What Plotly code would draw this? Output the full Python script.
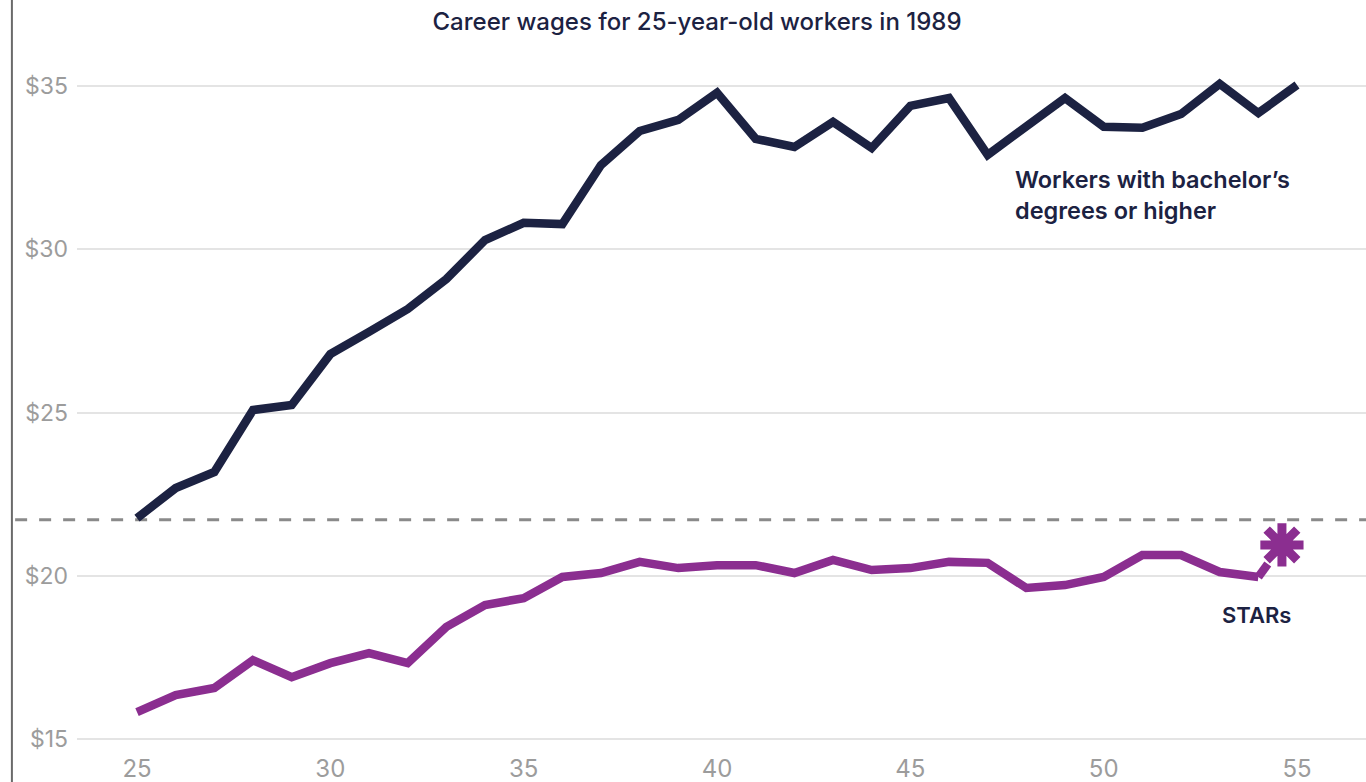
import plotly.graph_objects as go

# Age of the 1989 cohort of 25-year-olds
ages = list(range(25, 56))

# Hourly wages (USD) for workers with bachelor's degrees or higher
bachelor_wages = [21.77, 22.69, 23.18, 25.08, 25.23, 26.79, 27.47, 28.17, 29.09, 30.28,
                  30.81, 30.77, 32.58, 33.62, 33.96, 34.79, 33.38, 33.13, 33.90, 33.10,
                  34.39, 34.63, 32.89, 33.78, 34.63, 33.75, 33.72, 34.14, 35.06, 34.17,
                  35.03]

# Hourly wages (USD) for STARs (skilled through alternative routes), ages 25-54
star_ages = list(range(25, 55))
star_wages = [15.83, 16.35, 16.57, 17.42, 16.90, 17.33, 17.64, 17.33, 18.44, 19.11,
              19.32, 19.97, 20.09, 20.43, 20.24, 20.33, 20.33, 20.09, 20.49, 20.18,
              20.24, 20.43, 20.40, 19.63, 19.72, 19.97, 20.64, 20.64, 20.12, 19.97]

# Asterisk marking the STARs endpoint
asterisk_age = [54.61]
asterisk_wage = [20.95]

# Starting wage of bachelor's-degree workers, drawn as a dashed reference line
reference_wage = 21.72

x_ticks = [25, 30, 35, 40, 45, 50, 55]
y_ticks = [15, 20, 25, 30, 35]
y_tick_text = ["$" + str(v) for v in y_ticks]

NAVY = "#1c2242"
PURPLE = "#8b2e90"
GRAY_TEXT = "#9c9c9c"
FONT = "Inter"

fig = go.Figure()

# Dashed reference line across the full width
fig.add_shape(type="line", xref="paper", yref="y", x0=-0.048, x1=1.0,
              y0=reference_wage, y1=reference_wage,
              line=dict(color="#8a8a8a", width=3, dash="12px,12px"), layer="below")

# Left rule
fig.add_shape(type="line", xref="paper", yref="paper", x0=-0.0505, x1=-0.0505,
              y0=-0.05, y1=1.08, line=dict(color="#6a6a6a", width=2))

fig.add_trace(go.Scatter(x=ages, y=bachelor_wages, mode="lines",
                         line=dict(color=NAVY, width=8.5), hoverinfo="skip"))

fig.add_trace(go.Scatter(x=star_ages, y=star_wages, mode="lines",
                         line=dict(color=PURPLE, width=8.5), hoverinfo="skip"))

# Short connector from the last STARs point toward the asterisk, stopping short of it
frac = 0.40
cx = star_ages[-1] + frac * (asterisk_age[0] - star_ages[-1])
cy = star_wages[-1] + frac * (asterisk_wage[0] - star_wages[-1])
fig.add_trace(go.Scatter(x=[star_ages[-1], cx], y=[star_wages[-1], cy], mode="lines",
                         line=dict(color=PURPLE, width=8.5), hoverinfo="skip"))

fig.add_trace(go.Scatter(x=asterisk_age, y=asterisk_wage, mode="markers",
                         marker=dict(symbol="asterisk-open", size=36, color=PURPLE,
                                     line=dict(color=PURPLE, width=9)),
                         hoverinfo="skip"))

fig.add_annotation(x=47.65, y=31.66, xref="x", yref="y", xanchor="left", yanchor="middle",
                   text="Workers with bachelor’s<br>degrees or higher", showarrow=False,
                   align="left",
                   font=dict(family=FONT, size=23.5, color=NAVY, weight=600))

fig.add_annotation(x=53.94, y=18.80, xref="x", yref="y", xanchor="center", yanchor="middle",
                   text="STARs", showarrow=False,
                   font=dict(family=FONT, size=22, color=NAVY, weight=600))

fig.update_layout(
    width=1366, height=782,
    margin=dict(l=77, r=0, t=50, b=30),
    paper_bgcolor="white", plot_bgcolor="white",
    showlegend=False,
    title=dict(text="Career wages for 25-year-old workers in 1989",
               x=0.481, xref="paper", xanchor="center",
               y=1 - 22 / 782, yref="container", yanchor="middle",
               font=dict(family=FONT, size=24, color=NAVY, weight=500)),
    xaxis=dict(range=[23.448, 56.784], tickvals=x_ticks, showgrid=False,
               zeroline=False, showline=False, ticks="",
               tickfont=dict(family=FONT, size=24, color=GRAY_TEXT)),
    yaxis=dict(range=[14.61, 36.10], tickvals=y_ticks, ticktext=y_tick_text,
               showgrid=True, gridcolor="#e4e4e4", gridwidth=1.5,
               zeroline=False, showline=False, ticks="", ticklabelstandoff=8,
               tickfont=dict(family=FONT, size=23, color=GRAY_TEXT)),
)

fig.write_html("out.html")
